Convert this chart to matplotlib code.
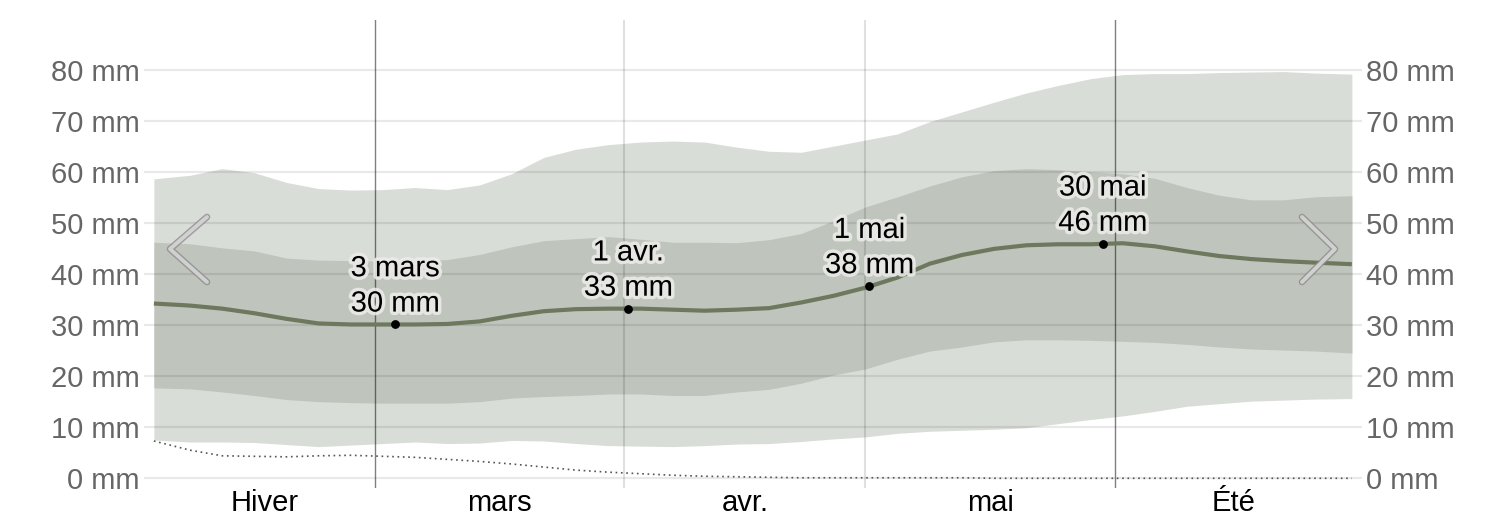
import matplotlib
matplotlib.use("Agg")
import matplotlib.pyplot as plt
import matplotlib.patheffects as pe
from matplotlib.lines import Line2D

plt.rcParams['font.family'] = ['Liberation Sans', 'DejaVu Sans']

# day offsets relative to 1 March (day centers)
days = [-27.5, -23, -19, -15, -11, -7, -3, 1, 5, 9, 13, 17, 21, 25, 29, 33, 37, 41, 45,
        49, 53, 57, 61, 65, 69, 73, 77, 81, 85, 89, 93, 97, 101, 105, 109, 113, 117, 121.5]
p90 = [58.6, 59.3, 60.6, 59.8, 57.9, 56.7, 56.4, 56.5, 56.9, 56.5, 57.4, 59.6, 62.8, 64.4,
       65.3, 65.8, 66.0, 65.8, 64.8, 64.0, 63.8, 65.0, 66.2, 67.4, 69.8, 71.7, 73.6, 75.4,
       76.9, 78.2, 79.0, 79.2, 79.2, 79.4, 79.5, 79.6, 79.3, 79.1]
p75 = [46.2, 45.9, 45.1, 44.5, 43.1, 42.7, 42.6, 42.5, 42.6, 42.8, 43.8, 45.3, 46.5, 46.9,
       47.3, 46.8, 46.2, 46.2, 46.1, 46.7, 47.9, 50.4, 53.1, 55.1, 57.2, 59.0, 60.2, 60.6,
       60.4, 60.0, 59.6, 58.7, 56.9, 55.4, 54.5, 54.5, 55.1, 55.3]
p50 = [34.2, 33.8, 33.2, 32.3, 31.2, 30.3, 30.1, 30.1, 30.1, 30.2, 30.7, 31.8, 32.7, 33.1,
       33.2, 33.2, 33.0, 32.8, 33.0, 33.3, 34.4, 35.7, 37.3, 39.3, 42.0, 43.7, 44.9, 45.6,
       45.8, 45.8, 46.0, 45.4, 44.4, 43.5, 42.9, 42.5, 42.2, 41.9]
p25 = [17.7, 17.5, 16.9, 16.2, 15.4, 15.0, 14.8, 14.7, 14.7, 14.7, 15.0, 15.7, 16.0, 16.2,
       16.5, 16.5, 16.2, 16.2, 16.9, 17.4, 18.6, 20.2, 21.4, 23.3, 24.9, 25.7, 26.7, 27.1,
       27.1, 27.0, 26.8, 26.6, 26.2, 25.7, 25.3, 25.1, 24.9, 24.5]
p10 = [7.5, 7.1, 7.1, 7.0, 6.6, 6.2, 6.5, 6.8, 7.1, 6.8, 6.9, 7.4, 7.3, 6.8, 6.4, 6.3, 6.2,
       6.4, 6.7, 6.8, 7.2, 7.7, 8.1, 8.8, 9.2, 9.4, 9.6, 9.9, 10.7, 11.5, 12.2, 13.1, 14.1,
       14.6, 15.1, 15.3, 15.5, 15.6]
dotted = [7.3, 5.5, 4.4, 4.3, 4.2, 4.4, 4.5, 4.3, 4.1, 3.7, 3.3, 2.8, 2.2, 1.6, 1.2, 0.9,
          0.6, 0.4, 0.3, 0.2, 0.1, 0.1, 0.1, 0.1, 0.1, 0.1, 0.0, 0.0, 0.0, 0.0, 0.0, 0.0,
          0.0, 0.0, 0.0, 0.0, 0.0, 0.0]

y_ticks = [0, 10, 20, 30, 40, 50, 60, 70, 80]
y_tick_labels = [f"{v} mm" for v in y_ticks]

period_names = ["Hiver", "mars", "avr.", "mai", "Été"]
period_centers = [-13.75, 15.5, 46.0, 76.5, 106.75]
boundary_days = [0, 31, 61, 92]
boundary_strong = [True, False, False, True]

ann_days = [2.5, 31.5, 61.5, 90.5]
ann_values = [30.1, 33.2, 37.6, 45.9]
ann_dates = ["3 mars", "1 avr.", "1 mai", "30 mai"]
ann_labels = ["30 mm", "33 mm", "38 mm", "46 mm"]

W, H = 1506, 524
fig = plt.figure(figsize=(W / 100, H / 100), dpi=100)
ax_l, ax_r, ax_t, ax_b = 144, 1362, 20, 488
ax = fig.add_axes([ax_l / W, 1 - ax_b / H, (ax_r - ax_l) / W, (ax_b - ax_t) / H])
ax.set_xlim(-28.73, 122.76)
ax.set_ylim(-1.90, 89.69)
for s in ax.spines.values():
    s.set_visible(False)

outer_c = "#d9ddd7"
inner_c = "#bfc5bc"
line_c = "#6d785f"

ax.fill_between(days, p10, p90, color=outer_c, lw=0, zorder=1)
ax.fill_between(days, p25, p75, color=inner_c, lw=0, zorder=1.5)

for v in y_ticks:
    ax.axhline(v, color=(0, 0, 0, 0.085), lw=1.6, zorder=2)

for d, strong in zip(boundary_days, boundary_strong):
    if strong:
        ax.axvline(d, color=(0, 0, 0, 0.5), lw=1.0, zorder=2.2)
    else:
        ax.axvline(d, color=(0, 0, 0, 0.12), lw=1.5, zorder=2.2)

ax.plot(days, dotted, color="#555555", lw=1.2, ls=(0, (1, 2.2)), zorder=2.6)
ax.plot(days, p50, color=line_c, lw=3.0, zorder=3, solid_capstyle='butt')

ax.plot(ann_days, ann_values, 'o', color='black', ms=5.3, zorder=4)
halo = [pe.withStroke(linewidth=5, foreground=(0.93, 0.93, 0.92, 0.85))]
for d, v, dt, lb in zip(ann_days, ann_values, ann_dates, ann_labels):
    ax.annotate(f"{dt}\n{lb}", xy=(d, v), xytext=(0, 5), textcoords='offset points',
                ha='center', va='bottom', fontsize=21, color='black',
                linespacing=1.33, path_effects=halo, zorder=5)

ax.set_yticks(y_ticks)
ax.set_yticklabels(y_tick_labels)
ax.tick_params(axis='y', which='both', length=0, labelsize=21, labelcolor='#666666',
               left=False, right=False, labelleft=True, labelright=True, pad=3)
ax.set_xticks([])

xt = ax.get_xaxis_transform()
for name, c in zip(period_names, period_centers):
    ax.text(c, -23 / (ax_b - ax_t), name, transform=xt, ha='center', va='baseline',
            fontsize=21, color='black')

# navigation chevrons
def px2ax(px, py):
    return (px - ax_l) / (ax_r - ax_l), (ax_b - py) / (ax_b - ax_t)

for pts in ([(207, 217), (170, 249), (207, 282)], [(1302, 217), (1335, 249), (1302, 282)]):
    xs, ys = zip(*[px2ax(*p) for p in pts])
    ln = Line2D(xs, ys, transform=ax.transAxes, color=(0.86, 0.86, 0.86, 0.85), lw=2.8,
                solid_capstyle='round', solid_joinstyle='round', zorder=6,
                path_effects=[pe.Stroke(linewidth=4.8, foreground=(0.55, 0.55, 0.55, 0.8)),
                              pe.Normal()])
    ax.add_line(ln)

fig.savefig("out.png", dpi=100)
